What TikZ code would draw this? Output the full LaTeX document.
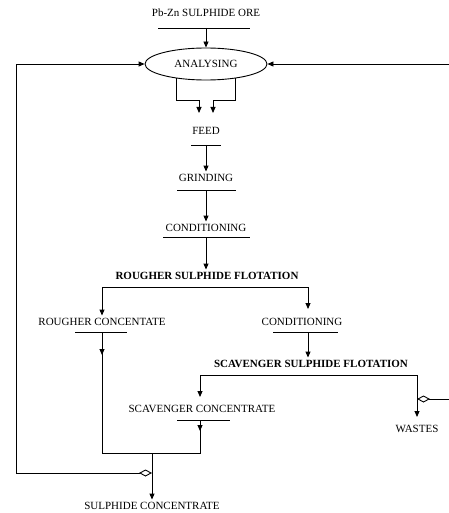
\documentclass[tikz,border=0pt]{standalone}
\usepackage{fontspec}
\setmainfont{Liberation Serif}
\usetikzlibrary{positioning,shapes.geometric,arrows.meta}

\begin{document}
\begin{tikzpicture}[x=1pt,y=1pt,line width=0.9pt,
		>={Triangle[length=6pt,width=5pt]},
		lbl/.style={inner sep=1pt,text height=8pt,text depth=0pt,font=\fontsize{11}{13}\selectfont},
		blbl/.style={lbl,font=\fontsize{11}{13}\selectfont\bfseries},
		unit/.style={ellipse,draw,minimum width=122pt,minimum height=32pt,inner sep=0pt,font=\fontsize{11}{13}\selectfont},
		dia/.style={{Diamond[open,length=13pt,width=7pt]}->}]
		\useasboundingbox (0,0) rectangle (448,-513);
		% stages
		\node[lbl] (ore) at (206,-13) {Pb-Zn SULPHIDE ORE};
		\node[unit] (analysing) at (206,-64) {ANALYSING};
		\node[lbl] (feed) at (206,-131) {FEED};
		\node[lbl] (grinding) at (206,-177) {GRINDING};
		\node[lbl] (cond) at (206,-227) {CONDITIONING};
		\node[blbl] (rougher) at (207,-275) {ROUGHER SULPHIDE FLOTATION};
		\node[lbl] (rconc) at (102,-321) {ROUGHER CONCENTATE};
		\node[lbl] (scond) at (302,-321) {CONDITIONING};
		\node[blbl] (scav) at (311,-363) {SCAVENGER SULPHIDE FLOTATION};
		\node[lbl] (sconc) at (202,-408) {SCAVENGER CONCENTRATE};
		\node[lbl] (wastes) at (417,-428) {WASTES};
		\node[lbl] (sulconc) at (152,-505) {SULPHIDE CONCENTRATE};
		% bars under the texts
		\draw (158,-28) -- (250,-28); \coordinate (orebar) at (206,-28);
		\draw (191,-145) -- (221,-145); \coordinate (feedbar) at (206,-145);
		\draw (177,-190) -- (236,-190); \coordinate (grindbar) at (206,-190);
		\draw (163,-237) -- (250,-237); \coordinate (condbar) at (206,-237);
		\draw (75,-332) -- (127,-332); \coordinate (rconcbar) at (102,-332);
		\draw (273,-332) -- (338,-332); \coordinate (scondbar) at (308,-332);
		\draw (177,-420) -- (230,-420); \coordinate (sconcbar) at (200,-420);
		\coordinate (join) at (152,-453);
		% main line
		\draw[->] (orebar) -- (analysing);
		\draw[->] (analysing.206) |- (199,-100) -- (199,-113);
		\draw[->] (analysing.334) |- (213,-100) -- (213,-113);
		\draw[->] (feedbar) -- (grinding);
		\draw[->] (grindbar) -- (cond);
		\draw[->] (condbar) -- (condbar |- rougher.north);
		% rougher split
		\draw[<->] (rconc) |- (308,-287) -- (308,-309);
		\draw[->] (scondbar) -- (scondbar |- scav.north);
		% scavenger split
		\draw[<->] (200,-397) |- (417,-375) -- (417,-417);
		% concentrates
		\draw[->] (rconcbar) -- ++(0,-23);
		\draw (rconcbar) |- (join);
		\draw[->] (sconcbar) -- ++(0,-11);
		\draw (sconcbar) |- (join);
		\draw[->] (join) -- (sulconc);
		% recycle loops
		\draw[dia] (152,-473) -| (16,-64) -- (analysing);
		\draw[dia] (417,-399) -- (451,-399) -- (451,-64) -- (analysing);
\end{tikzpicture}
\end{document}
